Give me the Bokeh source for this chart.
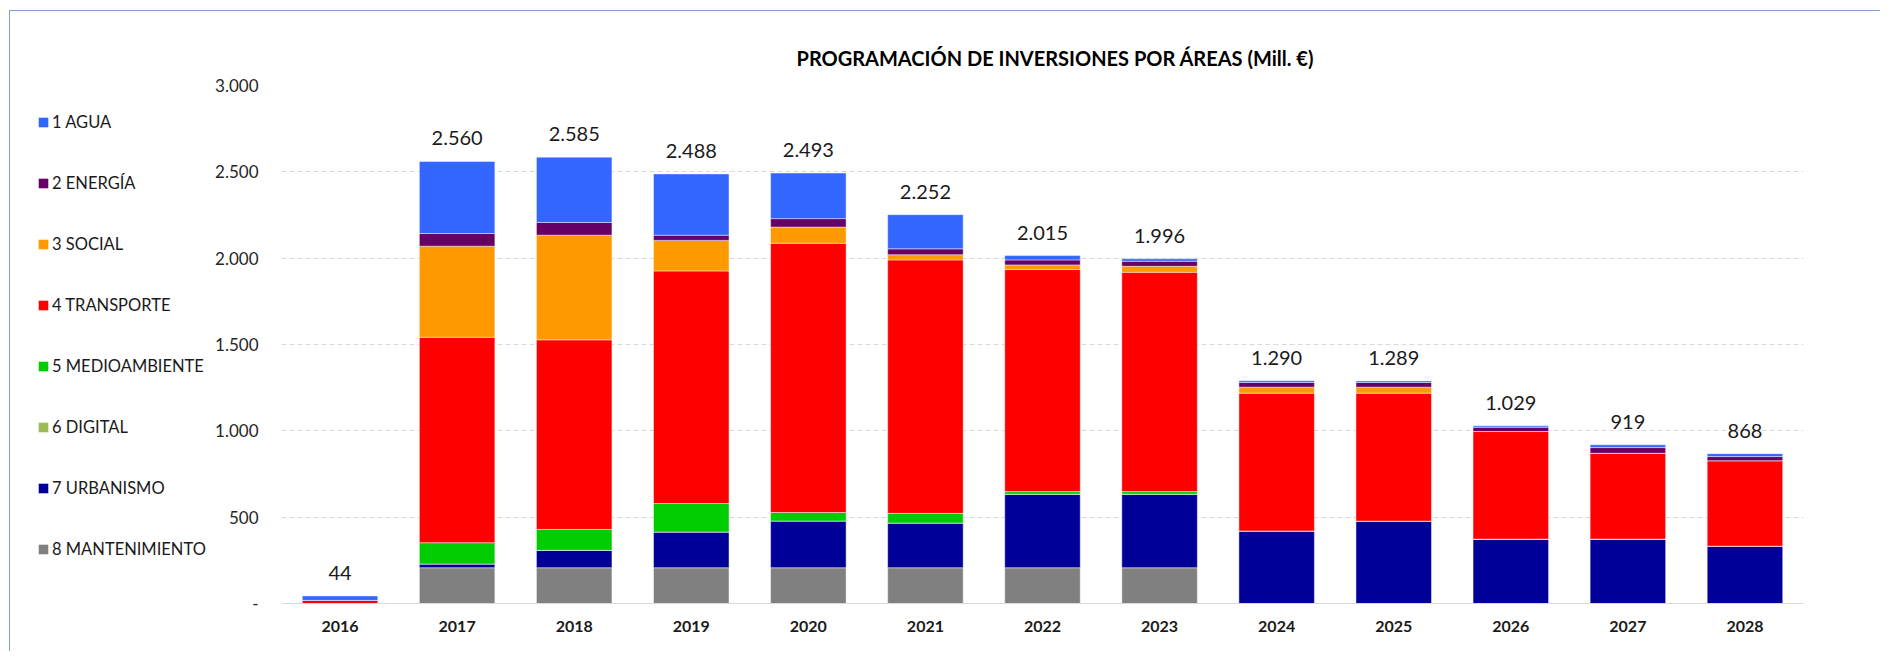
from bokeh.plotting import figure
from bokeh.layouts import row
from bokeh.models import FactorRange, Range1d, Legend, LegendItem, FixedTicker, Title
from bokeh.embed import file_html
from bokeh.resources import INLINE
from bokeh.core.properties import value

years = ["2016", "2017", "2018", "2019", "2020", "2021", "2022",
         "2023", "2024", "2025", "2026", "2027", "2028"]

# stacked bottom -> top
mantenimiento = [0, 207, 207, 207, 207, 207, 207, 207, 0, 0, 0, 0, 0]
urbanismo = [0, 22, 101, 207, 271, 259, 426, 426, 420, 477, 373, 373, 332]
digital = [0, 0, 0, 0, 0, 0, 0, 0, 0, 0, 0, 0, 0]
medioambiente = [0, 123, 121, 165, 49, 56, 15, 15, 0, 0, 0, 0, 0]
transporte = [18, 1190, 1098, 1347, 1559, 1468, 1286, 1270, 798, 741, 623, 497, 495]
social = [0, 527, 606, 177, 94, 30, 27, 35, 35, 35, 0, 0, 0]
energia = [0, 74, 74, 30, 49, 34, 29, 29, 27, 27, 25, 33, 24]
agua = [26, 417, 378, 355, 264, 198, 25, 14, 10, 9, 8, 16, 17]

series_keys = ["mant", "urb", "dig", "medio", "trans", "soc", "ener", "agua"]
series_labels = ["8 MANTENIMIENTO", "7 URBANISMO", "6 DIGITAL", "5 MEDIOAMBIENTE",
                 "4 TRANSPORTE", "3 SOCIAL", "2 ENERGÍA", "1 AGUA"]
series_colors = ["#808080", "#000099", "#9bbb59", "#00cc00",
                 "#ff0000", "#ff9900", "#660066", "#3366ff"]

y_ticks = [0, 500, 1000, 1500, 2000, 2500, 3000]
y_tick_labels = ["-", "500", "1.000", "1.500", "2.000", "2.500", "3.000"]

title_text = "PROGRAMACIÓN DE INVERSIONES POR ÁREAS (Mill. €)"

FONT = "Lato"
LEG_W = 200
H = 640

data = {"year": years, "mant": mantenimiento, "urb": urbanismo, "dig": digital,
        "medio": medioambiente, "trans": transporte, "soc": social,
        "ener": energia, "agua": agua}

totals = [sum(v) for v in zip(mantenimiento, urbanismo, digital, medioambiente,
                              transporte, social, energia, agua)]
total_labels = [f"{t:,}".replace(",", ".") for t in totals]

# ---------------- main chart ----------------
p = figure(
    x_range=FactorRange(*years, range_padding=0),
    y_range=Range1d(0, 3000),
    width=1870 - LEG_W, height=H,
    min_border_left=271 - LEG_W, min_border_right=77,
    min_border_top=74, min_border_bottom=48,
    output_backend="svg", toolbar_location=None,
    outline_line_color=None,
)

renderers = p.vbar_stack(series_keys, x="year", width=0.645, source=data,
                         color=series_colors, line_color="white",
                         line_alpha=0.45, line_width=1)

p.text(x=years, y=totals, text=total_labels, text_align="center",
       text_baseline="middle", y_offset=-23, text_font=value(FONT),
       text_font_size="20px", text_color="#1a1a1a")

p.title = Title(text=title_text, align="left", offset=515, standoff=31,
                text_font=FONT, text_font_size="20px", text_font_style="bold",
                text_color="#000000")

p.xaxis.axis_line_color = "#d9d9d9"
p.xaxis.major_tick_line_color = None
p.xaxis.minor_tick_line_color = None
p.xaxis.major_label_text_font = FONT
p.xaxis.major_label_text_font_size = "16px"
p.xaxis.major_label_text_font_style = "bold"
p.xaxis.major_label_text_color = "#1a1a1a"
p.xaxis.major_label_standoff = 11

p.yaxis.ticker = FixedTicker(ticks=y_ticks)
p.yaxis.major_label_overrides = {t: l for t, l in zip(y_ticks, y_tick_labels)}
p.yaxis.axis_line_color = None
p.yaxis.major_tick_line_color = None
p.yaxis.minor_tick_line_color = None
p.yaxis.major_tick_out = 0
p.yaxis.major_tick_in = 0
p.yaxis.major_label_text_font = FONT
p.yaxis.major_label_text_font_size = "17px"
p.yaxis.major_label_text_color = "#262626"
p.yaxis.major_label_standoff = 23

p.xgrid.grid_line_color = None
p.ygrid.grid_line_color = "#d9d9d9"
p.ygrid.grid_line_dash = "5 3"
p.ygrid.grid_line_width = 1

# ---------------- legend panel ----------------
pl = figure(width=LEG_W, height=H, x_range=Range1d(0, 1), y_range=Range1d(0, 1),
            x_axis_location=None, y_axis_location=None,
            min_border=0, output_backend="svg", toolbar_location=None,
            outline_line_color=None)
pl.xgrid.grid_line_color = None
pl.ygrid.grid_line_color = None

# zero-height proxies: they only provide the legend swatches
leg_renderers = [pl.vbar(x=[0.5], bottom=[0], top=[0], width=0.0, fill_color=c,
                         line_color=None)
                 for c in series_colors]
items = [LegendItem(label=lab, renderers=[r])
         for lab, r in zip(series_labels, leg_renderers)][::-1]
legend = Legend(items=items, location=(27, 44), orientation="vertical",
                glyph_width=12, glyph_height=12, label_standoff=3, spacing=41,
                padding=0, margin=0, border_line_color=None,
                background_fill_alpha=0, label_text_font=FONT,
                label_text_font_size="16.5px", label_text_color="#1a1a1a",
                label_height=20)
pl.add_layout(legend, "center")

layout = row(pl, p, spacing=0)
layout.styles = {"border-top": "1px solid #7f9fd3", "border-left": "1px solid #7f9fd3",
                 "margin-left": "9px", "margin-top": "10px"}

open("out.html", "w").write(file_html(layout, INLINE))
